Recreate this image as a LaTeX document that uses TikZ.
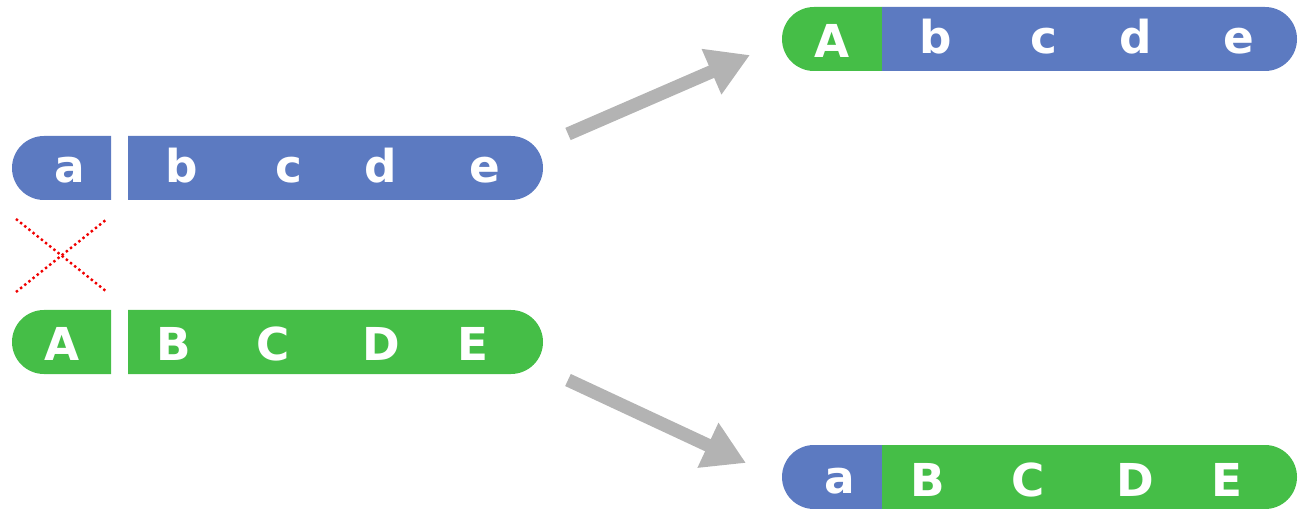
\documentclass[tikz,border=0pt]{standalone}
\usepackage{fontspec}
\setmainfont{DejaVu Sans}
\usetikzlibrary{shapes.misc,arrows.meta}
\definecolor{barblue}{RGB}{92,122,193}
\definecolor{bargreen}{RGB}{69,190,71}
\definecolor{arrowgray}{RGB}{179,179,179}
\definecolor{crossred}{RGB}{240,0,0}
\begin{document}
\begin{tikzpicture}[x=0.75pt,y=-0.75pt,
  headpart/.style={rounded rectangle, rounded rectangle east arc=none,
    inner sep=0pt, minimum height=48pt, minimum width=#1, draw=none},
  tailpart/.style={rounded rectangle, rounded rectangle west arc=none,
    inner sep=0pt, minimum height=48pt, minimum width=#1, draw=none},
  letter/.style={text=white, anchor=base, inner sep=0pt,
    font=\fontsize{34}{34}\selectfont\bfseries},
  move/.style={draw=arrowgray, line width=10pt,
    -{Triangle[length=31.5pt,width=35pt]}},
  cross/.style={draw=crossred, line width=1.8pt, dash pattern=on 1.8pt off 2.2pt}]

\useasboundingbox (0,0) rectangle (1305,509);

% original pair on the left
\node[headpart=74.25pt, fill=barblue] (lowhead) at (61.5,168) {};
\node[tailpart=311.25pt, fill=barblue] (lowtail) at (335.5,168) {};
\node[headpart=74.25pt, fill=bargreen] (caphead) at (61.5,342) {};
\node[tailpart=311.25pt, fill=bargreen] (captail) at (335.5,342) {};

\node[letter] (la) at (70,183) {a};
\node[letter] (lb) at (182,183) {b};
\node[letter] (lc) at (289,183) {c};
\node[letter] (ld) at (381,183) {d};
\node[letter] (le) at (485,183) {e};

\node[letter] (lA) at (62,360) {A};
\node[letter] (lB) at (174,360) {B};
\node[letter] (lC) at (273,360) {C};
\node[letter] (lD) at (381,360) {D};
\node[letter] (lE) at (473,360) {E};

% the cut between the two pairs
\coordinate (xa) at (16,219);
\coordinate (xb) at (107,292);
\coordinate (xc) at (16,292);
\coordinate (xd) at (107,219);
\draw[cross] (xa) -- (xb);
\draw[cross] (xc) -- (xd);

% recombined results on the right
\node[headpart=75pt, fill=bargreen] (tophead) at (832,39) {};
\node[tailpart=311.25pt, fill=barblue] (toptail) at (1089.5,39) {};
\node[headpart=75pt, fill=barblue] (bothead) at (832,477) {};
\node[tailpart=311.25pt, fill=bargreen] (bottail) at (1089.5,477) {};

\node[letter] (tA) at (832,58) {A};
\node[letter] (tb) at (936,54) {b};
\node[letter] (tc) at (1044,54) {c};
\node[letter] (td) at (1136,54) {d};
\node[letter] (te) at (1239,54) {e};

\node[letter] (ba) at (840,493) {a};
\node[letter] (bB) at (928,496) {B};
\node[letter] (bC) at (1028,496) {C};
\node[letter] (bD) at (1135,496) {D};
\node[letter] (bE) at (1227,496) {E};

% crossover arrows
\coordinate (upstart) at (568,134);
\coordinate (upend) at (750,55);
\coordinate (downstart) at (568,380);
\coordinate (downend) at (746,463);
\draw[move] (upstart) -- (upend);
\draw[move] (downstart) -- (downend);
\end{tikzpicture}
\end{document}
